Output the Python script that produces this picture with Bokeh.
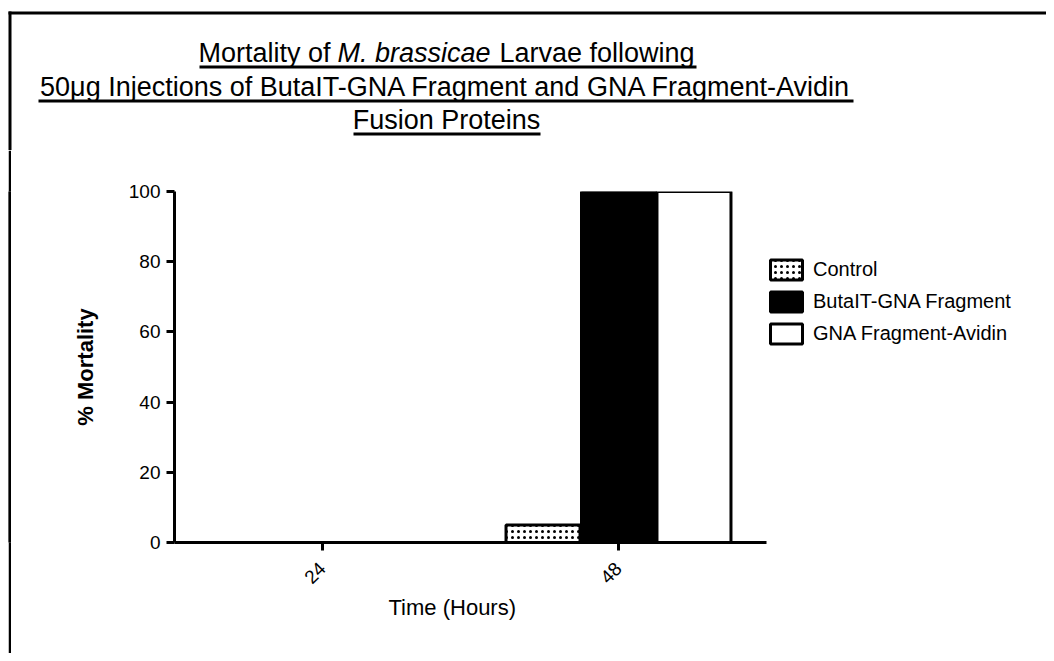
import math
from bokeh.plotting import figure
from bokeh.layouts import column, row
from bokeh.models import (ColumnDataSource, FactorRange, Range1d, Legend, LegendItem, FixedTicker, Title)
from bokeh.transform import dodge
from bokeh.core.properties import value
from bokeh.embed import file_html
from bokeh.resources import INLINE

# ---------------- data ----------------
times = ["24", "48"]
control = [0, 5]
butait_gna = [0, 100]
gna_avidin = [0, 100]
series_names = ["Control", "ButaIT-GNA Fragment", "GNA Fragment-Avidin"]
y_ticks = [0, 20, 40, 60, 80, 100]
x_title = "Time (Hours)"
y_title = "% Mortality"
title_line1 = ["Mortality of", "M. brassicae", "Larvae following"]
title_line2 = "50\u03bcg Injections of ButaIT-GNA Fragment and GNA Fragment-Avidin"
title_line3 = "Fusion Proteins"

FONT = "Liberation Sans"
W, H = 1046, 653
TH = 150          # height of the title strip
LS = 11           # width of the left border zone
TOFF = 10         # text baseline correction

# ---------------- title strip (pixel space) ----------------
t = figure(width=W, height=TH, x_range=Range1d(0, W), y_range=Range1d(TH, 0),
           min_border=0, x_axis_location=None, y_axis_location=None,
           output_backend="svg", toolbar_location=None)
t.outline_line_color = None
t.grid.visible = False
t.background_fill_color = "white"
t.border_fill_color = "white"

tsrc = ColumnDataSource(dict(
    x=[330, 337, 499, 445.5, 446],
    y=[62 - TOFF, 62 - TOFF, 62 - TOFF, 96 - TOFF, 129 - TOFF],
    text=[title_line1[0], title_line1[1], title_line1[2], title_line2, title_line3],
    align=["right", "left", "left", "center", "center"],
    style=["normal", "italic", "normal", "normal", "normal"],
))
t.text(x="x", y="y", text="text", source=tsrc, text_align="align", text_font_style="style",
       text_baseline="alphabetic", text_font=value(FONT), text_font_size=value("27px"),
       text_color="black")
# underlines
t.quad(left=[199, 38, 353], right=[696, 853, 540], top=[65, 99, 132], bottom=[68, 102, 135],
       fill_color="black", line_color=None)
# outer frame border (left + top)
t.quad(left=[8, 8], right=[11, W], top=[11, 11], bottom=[TH, 14], fill_color="black", line_color=None)

# ---------------- left border strip ----------------
s = figure(width=3, height=H - TH, x_range=Range1d(0, 1), y_range=Range1d(0, 1),
           min_border=0, x_axis_location=None, y_axis_location=None,
           output_backend="svg", toolbar_location=None, margin=(0, 0, 0, 8))
s.outline_line_color = None
s.grid.visible = False
s.background_fill_color = "black"
s.border_fill_color = "black"
s.quad(left=[0], right=[1], bottom=[0], top=[1], fill_color="black", line_color=None)

# ---------------- main chart ----------------
src = ColumnDataSource(dict(time=times, control=control, butait=butait_gna, avidin=gna_avidin))

p = figure(x_range=FactorRange(factors=times, range_padding=0),
           y_range=Range1d(0, 100),
           frame_width=592, frame_height=351,
           min_border_left=174 - LS, min_border_right=W - 174 - 592,
           min_border_top=191 - TH, min_border_bottom=H - 191 - 351,
           output_backend="svg", toolbar_location=None)
p.background_fill_color = "white"
p.border_fill_color = "white"
p.outline_line_color = None
p.grid.visible = False

bar_w = 0.25
r1 = p.vbar(x=dodge("time", -0.255, range=p.x_range), top="control", width=bar_w, source=src,
            fill_color="white", hatch_pattern="dot", hatch_color="black", hatch_scale=6,
            hatch_weight=1, line_color="black", line_width=3)
r2 = p.vbar(x=dodge("time", 0.0, range=p.x_range), top="butait", width=bar_w, source=src,
            fill_color="black", line_color="black", line_width=3)
r3 = p.vbar(x=dodge("time", 0.255, range=p.x_range), top="avidin", width=bar_w, source=src,
            fill_color="white", line_color="black", line_width=3)

for ax in (p.xaxis[0], p.yaxis[0]):
    ax.axis_line_width = 3
    ax.axis_line_color = "black"
    ax.major_tick_line_width = 3
    ax.major_tick_line_color = "black"
    ax.major_tick_out = 8
    ax.major_tick_in = 0
    ax.minor_tick_out = 0
    ax.minor_tick_in = 0
    ax.major_label_text_font = FONT
    ax.major_label_text_font_size = "19px"
    ax.major_label_text_color = "black"
    ax.axis_label_text_font = FONT
    ax.axis_label_text_color = "black"

p.yaxis.ticker = FixedTicker(ticks=y_ticks)
p.yaxis.major_label_standoff = 6
p.yaxis.axis_label = y_title
p.yaxis.axis_label_text_font_style = "bold"
p.yaxis.axis_label_text_font_size = "22px"
p.yaxis.axis_label_standoff = 28

p.xaxis.major_label_orientation = math.pi / 4
p.xaxis.major_label_standoff = 15

# x-axis title, placed under the axis (left-aligned with an offset from the frame's left edge)
p.add_layout(Title(text=x_title, align="left", offset=214, standoff=0,
                   text_font=FONT, text_font_size="22px", text_font_style="normal",
                   text_color="black"), "below")

legend = Legend(items=[LegendItem(label=n, renderers=[r]) for n, r in zip(series_names, [r1, r2, r3])],
                location=(0, 196), orientation="vertical",
                glyph_width=40, glyph_height=25, label_height=25, spacing=7,
                padding=0, margin=0, border_line_color=None, background_fill_alpha=0,
                label_text_font=FONT, label_text_font_size="20px", label_text_color="black",
                label_standoff=7)
p.add_layout(legend, "right")

layout = column(t, row(s, p))
open("out.html", "w").write(file_html(layout, INLINE))
